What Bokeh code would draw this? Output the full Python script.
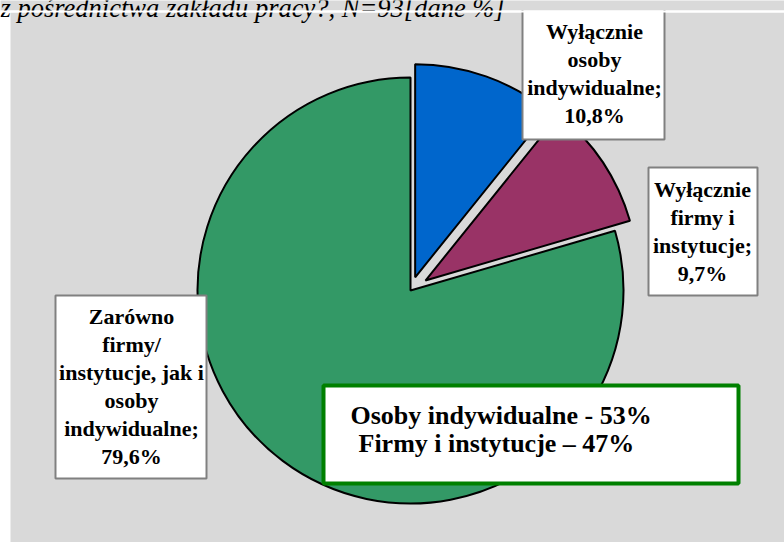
import math
from bokeh.plotting import figure
from bokeh.models import Range1d
from bokeh.embed import file_html
from bokeh.resources import INLINE
from bokeh.core.properties import value

# ---------------- data ----------------
title_text = "z pośrednictwa zakładu pracy?, N=93[dane %]"
categories = [
    "Wyłącznie osoby indywidualne",
    "Wyłącznie firmy i instytucje",
    "Zarówno firmy/ instytucje, jak i osoby indywidualne",
]
shares = [10.8, 9.7, 79.6]
label_lines = [
    ["Wyłącznie", "osoby", "indywidualne;"],
    ["Wyłącznie", "firmy i", "instytucje;"],
    ["Zarówno", "firmy/", "instytucje, jak i", "osoby", "indywidualne;"],
]
summary_names = ["Osoby indywidualne", "Firmy i instytucje"]
summary_values = [53, 47]
summary_seps = [" - ", " \u2013 "]

# ---------------- style / layout ----------------
colors = ["#0066CC", "#993366", "#339966"]
explode = [14, 18, 0]
BG = "#D9D9D9"
FONT = value("Times New Roman")
W, H = 784, 542


def sy(y):  # screen y -> data y
    return H - y


p = figure(width=W, height=H, output_backend="svg", toolbar_location=None,
           x_range=Range1d(0, W), y_range=Range1d(0, H),
           x_axis_type=None, y_axis_type=None, min_border=0,
           outline_line_color=None, background_fill_color="white",
           border_fill_color="white")
p.grid.visible = False

# gray panel
p.quad(left=[10], right=[W + 10], top=[sy(12)], bottom=[sy(H + 10)],
       fill_color=BG, line_color=None)

# pie
cx, cy, r = 410, sy(290), 213
total = sum(shares)
xs, ys, a0s, a1s = [], [], [], []
cum = 0.0
for s, e in zip(shares, explode):
    a1 = math.radians(90 - cum * 360 / total)
    a0 = math.radians(90 - (cum + s) * 360 / total)
    mid = (a0 + a1) / 2
    xs.append(cx + e * math.cos(mid))
    ys.append(cy + e * math.sin(mid))
    a0s.append(a0)
    a1s.append(a1)
    cum += s
p.wedge(x=xs, y=ys, radius=r, start_angle=a0s, end_angle=a1s,
        direction="anticlock", fill_color=colors, line_color="black",
        line_width=2)

# label boxes
boxes = [(522, 664, 4, 139), (648, 757, 167, 295), (55, 206, 295, 478)]
centers = [(594, 73), (702, 231), (131, 386)]
lh = 28
p.quad(left=[b[0] for b in boxes], right=[b[1] for b in boxes],
       top=[sy(b[2]) for b in boxes], bottom=[sy(b[3]) for b in boxes],
       fill_color="white", line_color="#808080", line_width=2)

tx, ty, tt = [], [], []
for lines, s, (ccx, ccy) in zip(label_lines, shares, centers):
    full = lines + [f"{s:.1f}".replace(".", ",") + "%"]
    n = len(full)
    for i, t in enumerate(full):
        tx.append(ccx)
        ty.append(sy(ccy + (i - (n - 1) / 2) * lh))
        tt.append(t)
p.text(x=tx, y=ty, text=tt, text_font=FONT,
       text_font_style="bold", text_font_size="22px", text_align="center",
       text_baseline="middle", text_color="black")

# summary box
p.quad(left=[323], right=[738], top=[sy(385)], bottom=[sy(483)],
       fill_color="white", line_color="#008000", line_width=4)
sum_text = [f"{n}{sep}{v}%" for n, sep, v in zip(summary_names, summary_seps, summary_values)]
p.text(x=[350, 358], y=[sy(415), sy(443)], text=sum_text,
       text_font=FONT, text_font_style="bold",
       text_font_size="26px", text_align="left", text_baseline="middle",
       text_color="black")

# top strip (gray) with the cut-off title, and white separator line
p.quad(left=[-10], right=[W + 10], top=[sy(-10)], bottom=[sy(10)],
       fill_color=BG, line_color=None)
p.text(x=[0], y=[sy(7)], text=[title_text], text_font=FONT,
       text_font_style="italic", text_font_size="26.5px", text_align="left",
       text_baseline="alphabetic", text_color="black")
p.quad(left=[0], right=[W + 10], top=[sy(10)], bottom=[sy(12)],
       fill_color="white", line_color=None)

open("out.html", "w").write(file_html(p, INLINE))
